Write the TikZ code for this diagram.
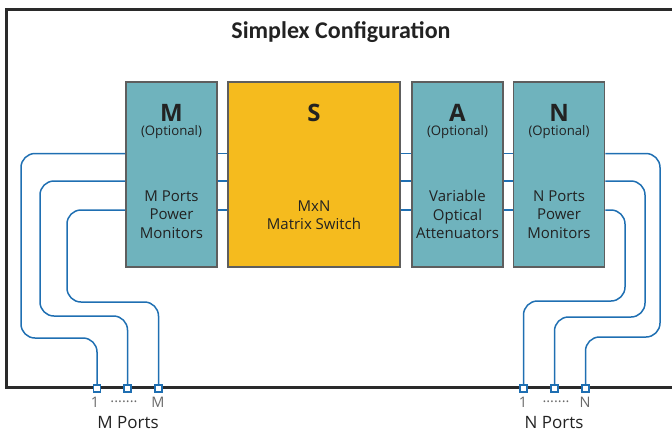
\documentclass[tikz,border=0pt]{standalone}
\usepackage{fontspec}
\setmainfont{Open Sans}
\newfontfamily\titlefont{Carlito}
\definecolor{boxteal}{HTML}{6FB3BD}
\definecolor{boxyellow}{HTML}{F5BB1E}
\definecolor{boxedge}{HTML}{5E5E5E}
\definecolor{fiberblue}{HTML}{1F6FB2}
\definecolor{framegray}{HTML}{2A2A2A}
\definecolor{txtdark}{HTML}{222222}
\definecolor{txtgray}{HTML}{6A6A6A}
\tikzset{
  unitbox/.style={draw=boxedge, line width=1.6pt, minimum width=91pt, minimum height=185pt, inner sep=0pt},
  fiber/.style={draw=fiberblue, line width=1.5pt, rounded corners=14pt},
  link/.style={draw=fiberblue, line width=1.5pt},
  port/.style={draw=fiberblue, fill=white, line width=1.2pt, minimum size=7pt, inner sep=0pt},
  head/.style={font=\fontsize{24}{26}\selectfont\bfseries, text=txtdark, inner sep=0pt},
  opt/.style={font=\fontsize{13.2}{15}\selectfont, text=txtdark, inner sep=0pt},
  desc/.style={font=\fontsize{15}{18.5}\selectfont, text=txtdark, align=center, inner sep=0pt},
  portnum/.style={font=\fontsize{14.5}{16}\selectfont, text=txtgray, inner sep=0pt},
  portlbl/.style={font=\fontsize{17}{19}\selectfont, text=txtdark, inner sep=0pt}
}
\begin{document}
\begin{tikzpicture}[x=1pt,y=-1pt]
\useasboundingbox (0,0) rectangle (672,432);
% frame
\draw[framegray, line width=3pt] (672,9) -- (6,9) -- (6,387.5) -- (672,387.5);
\node[font=\titlefont\fontsize{24}{26}\selectfont\bfseries, text=txtdark, inner sep=0pt] (title) at (341,32.5) {Simplex Configuration};
% boxes
\node[unitbox, fill=boxteal] (M) at (171.5,174.5) {};
\node[unitbox, fill=boxyellow, minimum width=172pt] (S) at (314,174.5) {};
\node[unitbox, fill=boxteal] (A) at (457.5,174.5) {};
\node[unitbox, fill=boxteal] (N) at (559,174.5) {};
% box texts
\node[head] (Mh) at (171.5,113) {M};
\node[opt] (Mo) at (171.5,132.5) {(Optional)};
\node[desc] (Md) at (171.5,214.5) {M Ports\\Power\\Monitors};
\node[head] (Sh) at (314,113) {S};
\node[desc] (Sd) at (314,215) {MxN\\Matrix Switch};
\node[head] (Ah) at (457.5,113) {A};
\node[opt] (Ao) at (457.5,132.5) {(Optional)};
\node[desc] (Ad) at (457.5,214.5) {Variable\\Optical\\Attenuators};
\node[head] (Nh) at (559,113) {N};
\node[opt] (No) at (559,132.5) {(Optional)};
\node[desc] (Nd) at (559,214.5) {N Ports\\Power\\Monitors};
% levels
\coordinate (r1) at (0,153.5);
\coordinate (r2) at (0,181);
\coordinate (r3) at (0,210);
% links between boxes
\foreach \r in {r1,r2,r3}{
  \draw[link] (M.east |- \r) -- (S.west |- \r);
  \draw[link] (S.east |- \r) -- (A.west |- \r);
  \draw[link] (A.east |- \r) -- (N.west |- \r);
}
% ports
\node[port] (p1) at (97,388.5) {};
\node[port] (p2) at (127.5,388.5) {};
\node[port] (p3) at (158.5,388.5) {};
\node[port] (q1) at (523.5,388.5) {};
\node[port] (q2) at (554.5,388.5) {};
\node[port] (q3) at (585.5,388.5) {};
% left fibers
\draw[fiber] (M.west |- r1) -- (21,153.5) -- (21,338) -- (97,338) -- (p1.north);
\draw[fiber] (M.west |- r2) -- (40,181) -- (40,316) -- (127.5,316) -- (p2.north);
\draw[fiber] (M.west |- r3) -- (67,210) -- (67,302) -- (158.5,302) -- (p3.north);
% right fibers
\draw[fiber] (N.east |- r1) -- (660,153.5) -- (660,337) -- (585.5,337) -- (q3.north);
\draw[fiber] (N.east |- r2) -- (645,181) -- (645,317) -- (554.5,317) -- (q2.north);
\draw[fiber] (N.east |- r3) -- (625,210) -- (625,301) -- (523.5,301) -- (q1.north);
% port labels
\node[portnum] (l1) at (95,402) {1};
\node[portnum] (ld) at (124,402) {.......};
\node[portnum] (lM) at (158,402) {M};
\node[portlbl] (lMP) at (128,423) {M Ports};
\node[portnum] (m1) at (523,402) {1};
\node[portnum] (md) at (556,402) {.......};
\node[portnum] (mN) at (585,402) {N};
\node[portlbl] (lNP) at (554,423) {N Ports};
\end{tikzpicture}
\end{document}
